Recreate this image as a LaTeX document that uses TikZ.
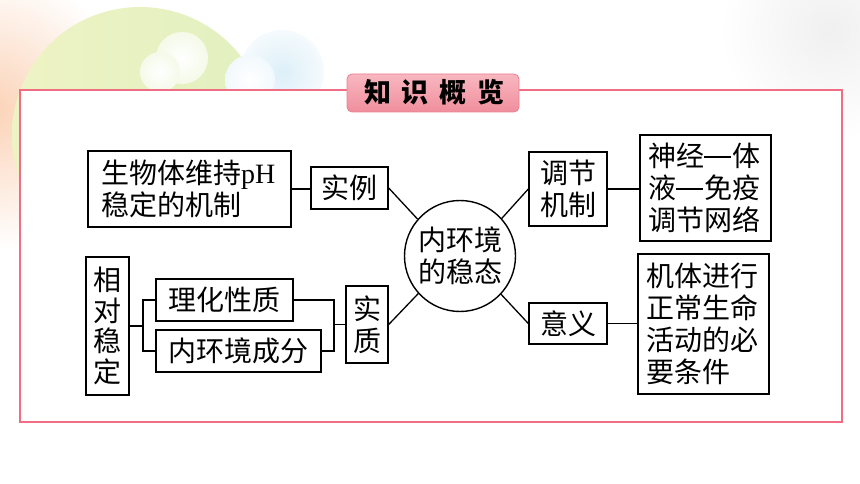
\documentclass[tikz,border=0pt]{standalone}
\usepackage{fontspec}
\newfontfamily\cjk{Noto Sans CJK SC}
\newfontfamily\ser{Liberation Serif}
\newcommand{\cjkdash}{\rule[9pt]{27pt}{1.3pt}\hspace{1pt}}
\definecolor{framepink}{HTML}{F06E84}
\definecolor{badgetop}{HTML}{F8B7C0}
\definecolor{badgebot}{HTML}{F08E9D}
\definecolor{badgeedge}{HTML}{E98090}
\definecolor{blobgreen}{HTML}{DCEDB4}
\definecolor{blobyellow}{HTML}{EEF3C4}
\definecolor{blobpeach}{HTML}{FBD2B6}
\definecolor{blobblue}{HTML}{DDEFF8}
\begin{document}
\begin{tikzpicture}[x=1pt,y=-1pt,
  txt/.style={font=\cjk\fontsize{28}{32}\selectfont},
  box/.style={txt,draw=black,line width=1.4pt,fill=white,inner sep=0pt,align=center},
  lbox/.style={box,align=left},
  conn/.style={draw=black,line width=1.3pt}]
\useasboundingbox (0,0) rectangle (860,484);
\fill[white] (0,0) rectangle (860,484);
% soft background blobs
\shade[inner color=black!6!white, outer color=white] (830,30) circle [radius=110pt];
\shade[inner color=blobpeach, outer color=white] (-10,110) circle [radius=140pt];
\shade[left color=blobyellow, right color=blobgreen!85!white] (140,135) circle [radius=128pt];
\shade[inner color=blobblue, outer color=blobblue!30!white] (282,72) circle [radius=42pt];
\shade[inner color=white, outer color=white!70!blobgreen] (182,58) circle [radius=26pt];
\shade[inner color=white, outer color=white!70!blobgreen] (160,72) circle [radius=20pt];
\shade[inner color=white, outer color=white!60!blobblue] (250,80) circle [radius=25pt];
% frame
\draw[framepink,line width=1.2pt,fill=white] (20,90) rectangle (842,422);
% badge
\shade[top color=badgetop,bottom color=badgebot,draw=badgeedge,line width=0.8pt,rounded corners=5pt]
  (347,74) rectangle (519,112);
\node[font=\cjk\bfseries\fontsize{27}{27}\selectfont,inner sep=0pt] (title) at (434.5,92.5)
  {知\hspace{11pt}识\hspace{11pt}概\hspace{11pt}览};
% nodes
\node[lbox,text width=177pt,inner xsep=13pt,minimum height=76pt] (sw) at (189.5,189)
  {生物体维持{\ser pH}\\稳定的机制};
\node[box,minimum width=77pt,minimum height=42pt] (sl) at (349.5,188) {实例};
\node[box,minimum width=43pt,minimum height=138pt,font=\cjk\fontsize{28}{30.5}\selectfont] (xd) at (107.5,326)
  {相\\对\\稳\\定};
\node[box,minimum width=137pt,minimum height=42pt] (lh) at (224.5,300) {理化性质};
\node[box,minimum width=165pt,minimum height=42pt] (nh) at (238.5,351) {内环境成分};
\node[box,minimum width=42pt,minimum height=77pt] (sz) at (367,324.5) {实\\质};
\node[box,circle,minimum size=111pt] (c) at (460,256) {内环境\\的稳态};
\node[box,minimum width=78pt,minimum height=74pt] (tj) at (568,189) {调节\\机制};
\node[lbox,text width=115pt,inner xsep=8pt,minimum height=106pt] (sj) at (705.5,188)
  {神经\cjkdash 体\\液\cjkdash 免疫\\调节网络};
\node[box,minimum width=78pt,minimum height=41pt] (yy) at (568,323.5) {意义};
\node[lbox,text width=115pt,inner xsep=8pt,minimum height=140pt] (jt) at (703.5,324)
  {机体进行\\正常生命\\活动的必\\要条件};
% bracket coordinates
\coordinate (lb) at (143,326);
\coordinate (rb) at (334,324.5);
% connectors
\draw[conn] (sw.east) -- (sw.east -| sl.west);
\draw[conn] (sl.east) -- (c.139);
\draw[conn] (c.42) -- (tj.west);
\draw[conn] (tj.east) -- (tj.east -| sj.west);
\draw[conn] (c.-43) -- (yy.west);
\draw[conn] (yy.east) -- (yy.east -| jt.west);
\draw[conn] (c.-138) -- (sz.east);
\draw[conn] (sz.west) -- (rb);
\draw[conn] (lh.east) -| (rb) |- (nh.east);
\draw[conn] (xd.east) -- (lb);
\draw[conn] (lh.west) -| (lb) |- (nh.west);
\end{tikzpicture}
\end{document}
